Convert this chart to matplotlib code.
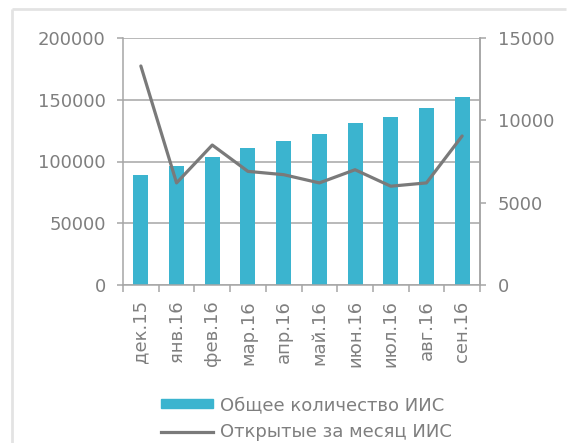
import matplotlib
matplotlib.use("Agg")
import matplotlib.pyplot as plt
from matplotlib.patches import Rectangle
from matplotlib.lines import Line2D

categories = ["дек.15", "янв.16", "фев.16", "мар.16", "апр.16", "май.16",
              "июн.16", "июл.16", "авг.16", "сен.16"]
total_iis = [89000, 96000, 104000, 111000, 117000, 122000, 131000, 136000, 143000, 152000]
opened_iis = [13300, 6200, 8500, 6900, 6700, 6200, 7000, 6000, 6200, 9050]
left_ticks = [0, 50000, 100000, 150000, 200000]
right_ticks = [0, 5000, 10000, 15000]

plt.rcParams['font.family'] = ['DejaVu Sans']

TXT = "#7f7f7f"
GRID = "#a6a6a6"
BAR = "#3bb4cf"
LINE = "#7a7a7a"
FS = 13

fig = plt.figure(figsize=(5.69, 4.43), dpi=100, facecolor="white", edgecolor="white", linewidth=0)
bx, by = 11.5/569, 1 - 9/443
fig.add_artist(Line2D([bx, bx], [0, by], transform=fig.transFigure, color="#e3e3e3",
                      linewidth=2, solid_capstyle="butt"))
fig.add_artist(Line2D([bx, 0.995], [by, by], transform=fig.transFigure, color="#e3e3e3",
                      linewidth=2, solid_capstyle="butt"))

ax = fig.add_axes([123/569, 1 - 285/443, (480 - 123)/569, (285 - 38)/443])
x = list(range(len(categories)))
ax.bar(x, total_iis, width=0.42, color=BAR, zorder=2)
ax.set_xlim(-0.5, len(categories) - 0.5)
ax.set_ylim(0, 200000)
ax.set_yticks(left_ticks)
ax.set_yticklabels([str(v) for v in left_ticks])
ax.yaxis.grid(True, color=GRID, linewidth=1.1, zorder=0)
ax.set_axisbelow(True)
ax.set_xticks(x)
ax.set_xticklabels(categories, rotation=90, va="top", ha="center")
ax.set_xticks([i - 0.5 for i in range(len(categories) + 1)], minor=True)
ax.tick_params(axis="x", which="major", length=0, pad=11, labelsize=FS, colors=TXT)
ax.tick_params(axis="x", which="minor", length=5, width=1.1, color=GRID)
ax.tick_params(axis="y", length=4.5, width=1.1, color=GRID, pad=8, labelsize=FS, labelcolor=TXT)
ax.spines["top"].set_visible(False)
for s in ["left", "bottom", "right"]:
    ax.spines[s].set_color(GRID)
    ax.spines[s].set_linewidth(1.1)

ax2 = ax.twinx()
ax2.plot(x, opened_iis, color=LINE, linewidth=2.3, zorder=3, solid_capstyle="round")
ax2.set_ylim(0, 15000)
ax2.set_yticks(right_ticks)
ax2.set_yticklabels([str(v) for v in right_ticks])
ax2.tick_params(axis="y", length=4, width=1.1, color=GRID, pad=9, labelsize=FS, labelcolor=TXT)
for s in ["top", "left", "bottom"]:
    ax2.spines[s].set_visible(False)
ax2.spines["right"].set_color(GRID)
ax2.spines["right"].set_linewidth(1.1)

handles = [Rectangle((0, 0), 1, 1, color=BAR),
           Line2D([], [], color=LINE, linewidth=2.3)]
labels = ["Общее количество ИИС", "Открытые за месяц ИИС"]
leg = fig.legend(handles, labels, loc="upper left", bbox_to_anchor=(161/569, 1 - 396/443),
                 frameon=False, fontsize=FS, handlelength=2.9, handleheight=0.4,
                 handletextpad=0.35, labelspacing=0.5, borderaxespad=0, borderpad=0)
for t in leg.get_texts():
    t.set_color(TXT)

fig.savefig("out.png", dpi=100)
